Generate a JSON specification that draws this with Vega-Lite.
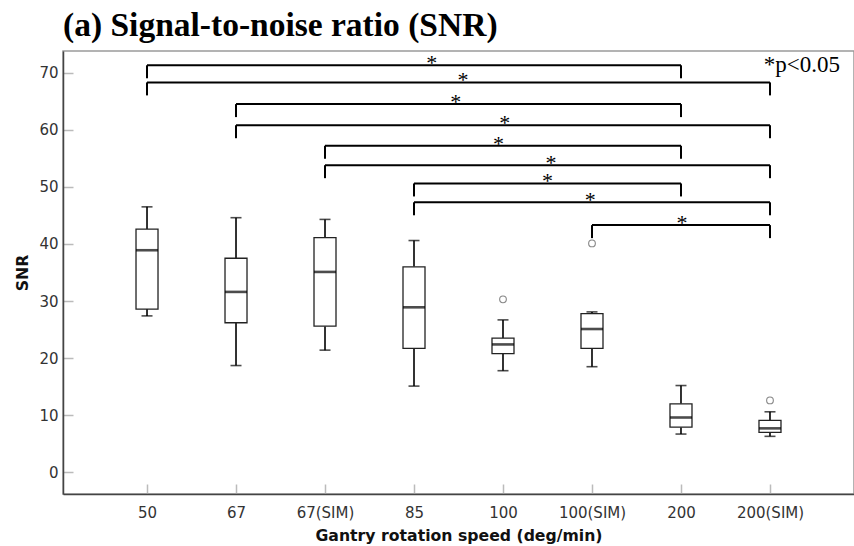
{
  "$schema": "https://vega.github.io/schema/vega-lite/v6.json",
  "width": 791,
  "height": 443,
  "autosize": {"type": "none"},
  "padding": {"left": 63, "top": 51, "right": 0, "bottom": 52},
  "background": "white",
  "title": {
    "text": "(a) Signal-to-noise ratio (SNR)",
    "anchor": "start",
    "frame": "group",
    "font": "Liberation Serif",
    "fontSize": 33.5,
    "fontWeight": "bold",
    "color": "black",
    "baseline": "alphabetic",
    "offset": -18
  },
  "config": {
    "view": {"stroke": "#9a9a9a", "strokeWidth": 1.5},
    "font": "DejaVu Sans",
    "axis": {
      "grid": false,
      "domainColor": "#444",
      "domainWidth": 1.5,
      "tickColor": "#bbbbbb",
      "tickWidth": 1.5,
      "tickSize": -10,
      "labelFont": "DejaVu Sans",
      "labelFontSize": 15,
      "labelColor": "#333",
      "titleFont": "DejaVu Sans",
      "titleFontSize": 15.7,
      "titleFontWeight": "bold",
      "titleColor": "#111"
    }
  },
  "datasets": {
    "boxes": [
      {"speed": "50", "lower": 27.4, "q1": 28.6, "median": 38.9, "q3": 42.6, "upper": 46.5},
      {"speed": "67", "lower": 18.7, "q1": 26.2, "median": 31.6, "q3": 37.5, "upper": 44.6},
      {"speed": "67(SIM)", "lower": 21.4, "q1": 25.6, "median": 35.1, "q3": 41.1, "upper": 44.3},
      {"speed": "85", "lower": 15.1, "q1": 21.7, "median": 28.9, "q3": 36.0, "upper": 40.6},
      {"speed": "100", "lower": 17.8, "q1": 20.8, "median": 22.4, "q3": 23.5, "upper": 26.7},
      {"speed": "100(SIM)", "lower": 18.5, "q1": 21.7, "median": 25.1, "q3": 27.8, "upper": 28.1},
      {"speed": "200", "lower": 6.7, "q1": 7.9, "median": 9.6, "q3": 12.0, "upper": 15.2},
      {"speed": "200(SIM)", "lower": 6.3, "q1": 7.0, "median": 7.7, "q3": 9.1, "upper": 10.6}
    ],
    "outliers": [
      {"speed": "100", "snr": 30.3},
      {"speed": "100(SIM)", "snr": 40.1},
      {"speed": "200(SIM)", "snr": 12.6}
    ],
    "brackets": [
      {"from": 0, "to": 6, "level": 71.3, "mid": 3.2, "sig": "*"},
      {"from": 0, "to": 7, "level": 68.3, "mid": 3.55, "sig": "*"},
      {"from": 1, "to": 6, "level": 64.5, "mid": 3.47, "sig": "*"},
      {"from": 1, "to": 7, "level": 60.8, "mid": 4.02, "sig": "*"},
      {"from": 2, "to": 6, "level": 57.2, "mid": 3.95, "sig": "*"},
      {"from": 2, "to": 7, "level": 53.8, "mid": 4.54, "sig": "*"},
      {"from": 3, "to": 6, "level": 50.6, "mid": 4.5, "sig": "*"},
      {"from": 3, "to": 7, "level": 47.3, "mid": 4.98, "sig": "*"},
      {"from": 5, "to": 7, "level": 43.3, "mid": 6.01, "sig": "*"}
    ],
    "note": [
      {"label": "*p<0.05", "pos": 6.93, "snr": 70.1}
    ]
  },
  "layer": [
    {
      "encoding": {
        "x": {
          "field": "speed",
          "type": "nominal",
          "scale": {
            "type": "point",
            "padding": 0.944,
            "domain": ["50", "67", "67(SIM)", "85", "100", "100(SIM)", "200", "200(SIM)"]
          },
          "axis": {
            "title": "Gantry rotation speed (deg/min)",
            "labelAngle": 0,
            "labelPadding": 21,
            "titlePadding": 8
          }
        },
        "y": {
          "type": "quantitative",
          "scale": {"domain": [-3.8, 73.8], "nice": false, "zero": false},
          "axis": {
            "title": "SNR",
            "values": [0, 10, 20, 30, 40, 50, 60, 70],
            "labelPadding": 15,
            "titlePadding": 8
          }
        }
      },
      "layer": [
        {
          "data": {"name": "boxes"},
          "mark": {"type": "rule", "color": "black", "strokeWidth": 1.6},
          "encoding": {"y": {"field": "lower"}, "y2": {"field": "q1"}}
        },
        {
          "data": {"name": "boxes"},
          "mark": {"type": "rule", "color": "black", "strokeWidth": 1.6},
          "encoding": {"y": {"field": "q3"}, "y2": {"field": "upper"}}
        },
        {
          "data": {"name": "boxes"},
          "mark": {"type": "bar", "size": 22, "fill": "white", "stroke": "#222", "strokeWidth": 1.3},
          "encoding": {"y": {"field": "q1"}, "y2": {"field": "q3"}}
        },
        {
          "data": {"name": "boxes"},
          "mark": {"type": "tick", "size": 22, "thickness": 2.6, "color": "black"},
          "encoding": {"y": {"field": "median"}}
        },
        {
          "data": {"name": "boxes"},
          "mark": {"type": "tick", "size": 11, "thickness": 1.6, "color": "black"},
          "encoding": {"y": {"field": "upper"}}
        },
        {
          "data": {"name": "boxes"},
          "mark": {"type": "tick", "size": 11, "thickness": 1.6, "color": "black"},
          "encoding": {"y": {"field": "lower"}}
        },
        {
          "data": {"name": "outliers"},
          "mark": {"type": "point", "shape": "circle", "filled": false, "size": 45, "stroke": "#555", "strokeWidth": 1.1},
          "encoding": {"y": {"field": "snr"}}
        }
      ]
    },
    {
      "encoding": {
        "y": {"type": "quantitative"}
      },
      "layer": [
        {
          "data": {"name": "brackets"},
          "mark": {"type": "rule", "color": "black", "strokeWidth": 2},
          "encoding": {
            "x": {"field": "from", "type": "quantitative", "scale": {"domain": [-0.944, 7.944], "nice": false, "zero": false}, "axis": null},
            "x2": {"field": "to"},
            "y": {"field": "level"}
          }
        },
        {
          "data": {"name": "brackets"},
          "mark": {"type": "rule", "color": "black", "strokeWidth": 2, "y2Offset": 13},
          "encoding": {
            "x": {"field": "from", "type": "quantitative", "axis": null},
            "y": {"field": "level"},
            "y2": {"field": "level"}
          }
        },
        {
          "data": {"name": "brackets"},
          "mark": {"type": "rule", "color": "black", "strokeWidth": 2, "y2Offset": 13},
          "encoding": {
            "x": {"field": "to", "type": "quantitative", "axis": null},
            "y": {"field": "level"},
            "y2": {"field": "level"}
          }
        },
        {
          "data": {"name": "brackets"},
          "mark": {"type": "text", "font": "Liberation Serif", "fontSize": 22, "color": "black", "align": "center", "baseline": "alphabetic", "dy": 5},
          "encoding": {
            "x": {"field": "mid", "type": "quantitative", "axis": null},
            "y": {"field": "level"},
            "text": {"field": "sig"}
          }
        },
        {
          "data": {"name": "note"},
          "mark": {"type": "text", "font": "Liberation Serif", "fontSize": 23, "color": "black", "align": "left", "baseline": "alphabetic"},
          "encoding": {
            "x": {"field": "pos", "type": "quantitative", "axis": null},
            "y": {"field": "snr"},
            "text": {"field": "label"}
          }
        }
      ]
    }
  ],
  "resolve": {"scale": {"x": "independent"}}
}
